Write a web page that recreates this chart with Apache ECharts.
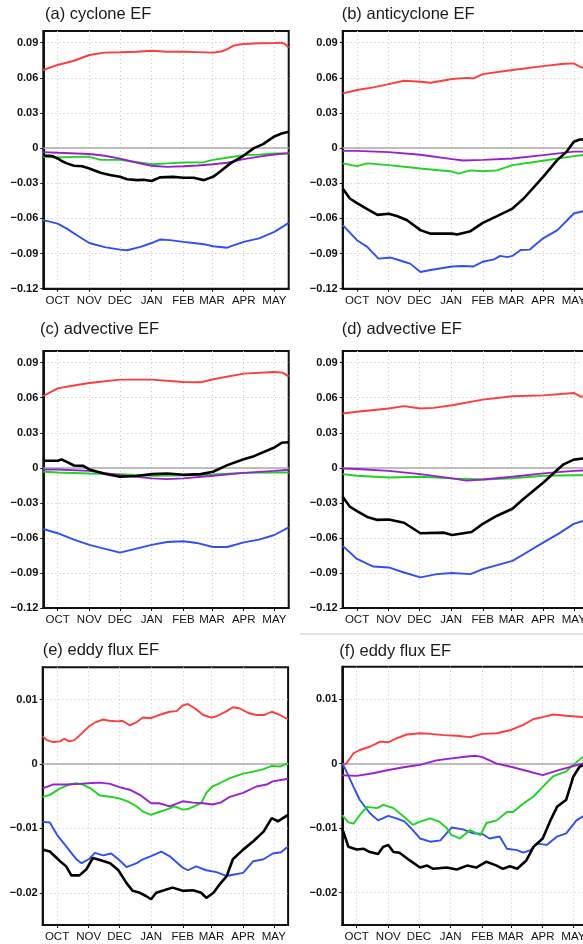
<!DOCTYPE html>
<html>
<head>
<meta charset="utf-8">
<script src="https://cdn.jsdelivr.net/npm/echarts@6/dist/echarts.min.js"></script>
<style>
  html, body { margin: 0; padding: 0; background: #fff; }
  #chart { width: 583px; height: 944px; }
</style>
</head>
<body>
<div id="chart"></div>
<script>
// Time axis: days counted from 1 October; the window runs mid-September to mid-May.
const dayMin = -14;
const dayMax = 226;
const monthTicks = [0, 31, 61, 92, 123, 151, 182, 212];
const monthLabels = ['OCT', 'NOV', 'DEC', 'JAN', 'FEB', 'MAR', 'APR', 'MAY'];

// Value-axis ticks
const efTicks = [-0.12, -0.09, -0.06, -0.03, 0, 0.03, 0.06, 0.09];
const eddyTicks = [-0.02, -0.01, 0, 0.01];

// (a) cyclone EF — [day, value]
const cycloneRed = [[-14,0.0667],[0,0.071],[16,0.0746],[31,0.0795],[46,0.0815],[61,0.0818],[77,0.0823],[92,0.0832],[107,0.0823],[123,0.0823],[137,0.082],[152,0.0815],[160,0.0825],[166,0.0845],[172,0.0875],[178,0.0885],[182,0.0889],[197,0.0895],[212,0.0898],[219,0.09],[223,0.0885],[226,0.0858]];
const cycloneBlack = [[-14,-0.0063],[-5,-0.0068],[0,-0.0088],[4,-0.011],[9,-0.013],[16,-0.015],[24,-0.0155],[31,-0.0174],[42,-0.021],[51,-0.023],[61,-0.0245],[68,-0.0265],[78,-0.0273],[84,-0.027],[92,-0.028],[100,-0.025],[113,-0.0245],[123,-0.0253],[133,-0.0253],[143,-0.0273],[152,-0.0245],[159,-0.02],[169,-0.013],[182,-0.0063],[192,0],[201,0.0034],[212,0.01],[219,0.0125],[226,0.014]];
const cycloneGreen = [[-14,-0.0074],[0,-0.008],[16,-0.0075],[31,-0.0074],[42,-0.01],[61,-0.01],[78,-0.012],[92,-0.0137],[107,-0.013],[123,-0.0122],[143,-0.012],[152,-0.01],[167,-0.008],[182,-0.006],[197,-0.0055],[212,-0.0046],[226,-0.0046]];
const cyclonePurple = [[-14,-0.0034],[0,-0.004],[31,-0.005],[46,-0.0065],[61,-0.009],[78,-0.0125],[92,-0.015],[107,-0.016],[123,-0.0155],[137,-0.0148],[152,-0.0137],[166,-0.0125],[182,-0.0094],[197,-0.0072],[212,-0.0054],[226,-0.0043]];
const cycloneBlue = [[-14,-0.0615],[0,-0.0644],[9,-0.0687],[20,-0.075],[31,-0.081],[46,-0.0845],[61,-0.0866],[68,-0.0872],[81,-0.0843],[92,-0.081],[100,-0.078],[110,-0.0785],[123,-0.08],[133,-0.081],[143,-0.082],[152,-0.0838],[166,-0.085],[172,-0.083],[182,-0.08],[197,-0.077],[212,-0.0715],[226,-0.0638]];

// (b) anticyclone EF
const anticycloneRed = [[-14,0.0467],[0,0.0496],[16,0.0519],[31,0.0547],[46,0.0575],[62,0.0567],[72,0.0558],[93,0.059],[107,0.06],[114,0.0595],[123,0.0632],[152,0.0667],[182,0.07],[200,0.0718],[212,0.0724],[218,0.0695],[222,0.068],[226,0.067]];
const anticycloneBlack = [[-14,-0.0345],[-7,-0.043],[0,-0.047],[10,-0.052],[20,-0.057],[31,-0.056],[39,-0.058],[49,-0.0615],[62,-0.07],[72,-0.073],[93,-0.073],[98,-0.0738],[111,-0.0709],[123,-0.0638],[137,-0.058],[152,-0.0516],[163,-0.043],[182,-0.0245],[196,-0.01],[205,-0.003],[212,0.0054],[218,0.0074],[226,0.0074]];
const anticycloneGreen = [[-14,-0.013],[0,-0.0154],[10,-0.013],[31,-0.0145],[62,-0.0174],[93,-0.02],[99,-0.0217],[111,-0.019],[123,-0.0197],[137,-0.019],[152,-0.0145],[182,-0.0108],[212,-0.0068],[226,-0.0054]];
const anticyclonePurple = [[-14,-0.0023],[0,-0.0023],[31,-0.0034],[62,-0.0057],[93,-0.0094],[104,-0.0105],[123,-0.01],[152,-0.0088],[182,-0.006],[212,-0.003],[226,-0.003]];
const anticycloneBlue = [[-14,-0.0658],[0,-0.0786],[10,-0.0843],[21,-0.0943],[33,-0.0934],[46,-0.097],[52,-0.0986],[62,-0.1057],[72,-0.104],[93,-0.101],[104,-0.1006],[114,-0.101],[123,-0.097],[134,-0.095],[140,-0.092],[147,-0.093],[152,-0.092],[160,-0.087],[169,-0.0866],[182,-0.077],[196,-0.07],[212,-0.0558],[221,-0.0538],[226,-0.052]];

// (c) advective EF
const advectiveCRed = [[-14,0.0615],[0,0.068],[16,0.0705],[31,0.0726],[61,0.0755],[92,0.0755],[123,0.0735],[140,0.0732],[152,0.0758],[182,0.0806],[212,0.082],[220,0.0815],[226,0.0783]];
const advectiveCBlack = [[-14,0.006],[0,0.006],[4,0.0071],[9,0.0051],[16,0.002],[25,0.0017],[31,-0.0014],[46,-0.005],[61,-0.0077],[77,-0.007],[92,-0.0054],[107,-0.0048],[123,-0.006],[140,-0.0054],[152,-0.0034],[166,0.0023],[182,0.0074],[192,0.01],[212,0.0174],[219,0.0214],[226,0.0219]];
const advectiveCGreen = [[-14,-0.0034],[0,-0.004],[31,-0.0048],[61,-0.0054],[92,-0.0068],[123,-0.0063],[152,-0.0057],[182,-0.0043],[212,-0.004],[226,-0.004]];
const advectiveCPurple = [[-14,-0.0014],[0,-0.0014],[31,-0.0026],[61,-0.0063],[92,-0.009],[107,-0.0097],[123,-0.009],[152,-0.0068],[182,-0.0043],[212,-0.0026],[226,-0.0017]];
const advectiveCBlue = [[-14,-0.0524],[0,-0.056],[16,-0.0615],[31,-0.066],[61,-0.0726],[92,-0.066],[107,-0.0635],[123,-0.0629],[136,-0.0643],[152,-0.0678],[166,-0.0678],[182,-0.0638],[197,-0.0615],[212,-0.0575],[226,-0.051]];

// (d) advective EF
const advectiveDRed = [[-14,0.0465],[0,0.048],[31,0.0508],[46,0.0528],[62,0.0508],[75,0.0513],[93,0.0536],[123,0.0584],[152,0.0613],[182,0.062],[212,0.0641],[218,0.0613],[226,0.06]];
const advectiveDBlack = [[-14,-0.0247],[-7,-0.0333],[0,-0.037],[10,-0.042],[20,-0.0446],[31,-0.0442],[46,-0.047],[62,-0.056],[85,-0.0555],[93,-0.0575],[112,-0.055],[123,-0.048],[137,-0.041],[152,-0.035],[163,-0.0264],[182,-0.0128],[192,-0.0048],[202,0.003],[212,0.007],[221,0.008],[226,0.008]];
const advectiveDGreen = [[-14,-0.0054],[0,-0.0068],[31,-0.0083],[62,-0.0077],[93,-0.009],[123,-0.01],[152,-0.009],[182,-0.0068],[212,-0.0063],[226,-0.0063]];
const advectiveDPurple = [[-14,-0.0006],[0,-0.001],[31,-0.0026],[62,-0.0054],[93,-0.009],[107,-0.011],[123,-0.01],[152,-0.0077],[182,-0.0048],[212,-0.0026],[226,-0.0022]];
const advectiveDBlue = [[-14,-0.0668],[0,-0.078],[16,-0.0845],[31,-0.0853],[46,-0.0896],[62,-0.0938],[78,-0.091],[93,-0.09],[111,-0.091],[123,-0.0867],[137,-0.0833],[152,-0.0796],[163,-0.074],[182,-0.064],[196,-0.057],[212,-0.048],[221,-0.0455],[226,-0.044]];

// (e) eddy flux EF
const eddyERed = [[-14,0.0043],[-10,0.0037],[-4,0.0034],[3,0.0035],[7,0.0039],[12,0.0035],[17,0.0037],[24,0.0047],[31,0.0058],[38,0.0065],[45,0.0069],[51,0.0067],[60,0.0066],[64,0.0067],[71,0.006],[78,0.0065],[84,0.0072],[92,0.0071],[100,0.0076],[110,0.0081],[117,0.0082],[123,0.0091],[128,0.0093],[135,0.0086],[143,0.0076],[151,0.0072],[156,0.0074],[166,0.0082],[172,0.0088],[179,0.0086],[187,0.0079],[195,0.0076],[203,0.0076],[210,0.0081],[218,0.0076],[226,0.0069]];
const eddyEGreen = [[-14,-0.0051],[-7,-0.0048],[3,-0.0038],[12,-0.0032],[19,-0.003],[25,-0.0032],[33,-0.0038],[42,-0.0049],[52,-0.0051],[60,-0.0053],[69,-0.0058],[78,-0.0066],[84,-0.0074],[92,-0.0079],[99,-0.0075],[107,-0.0071],[115,-0.0066],[123,-0.0071],[128,-0.007],[135,-0.0065],[141,-0.0061],[146,-0.0045],[152,-0.0035],[159,-0.003],[169,-0.0022],[182,-0.0015],[192,-0.0012],[202,-0.0008],[210,-0.0003],[218,-0.0004],[226,0.0001]];
const eddyEPurple = [[-14,-0.0038],[-4,-0.0032],[9,-0.0032],[22,-0.0031],[31,-0.003],[42,-0.0029],[52,-0.0031],[61,-0.0036],[71,-0.004],[81,-0.0048],[92,-0.0061],[100,-0.0061],[110,-0.0066],[123,-0.0058],[133,-0.006],[143,-0.0061],[152,-0.0063],[160,-0.006],[169,-0.0051],[182,-0.0045],[195,-0.0035],[205,-0.0032],[211,-0.0027],[226,-0.0023]];
const eddyEBlue = [[-14,-0.009],[-7,-0.0091],[0,-0.011],[9,-0.0128],[19,-0.0148],[24,-0.0154],[31,-0.0148],[37,-0.0138],[45,-0.0142],[53,-0.0139],[60,-0.0148],[68,-0.016],[78,-0.0154],[84,-0.0148],[92,-0.0143],[102,-0.0136],[110,-0.0143],[123,-0.0161],[128,-0.0165],[136,-0.0159],[146,-0.0165],[156,-0.0168],[166,-0.0174],[172,-0.0172],[182,-0.0169],[192,-0.0151],[202,-0.0148],[211,-0.0139],[219,-0.0137],[226,-0.0128]];
const eddyEBlack = [[-14,-0.0133],[-7,-0.0136],[3,-0.0151],[9,-0.0159],[14,-0.0173],[22,-0.0173],[29,-0.0163],[35,-0.0146],[42,-0.0149],[52,-0.0154],[60,-0.0165],[68,-0.0185],[74,-0.0197],[81,-0.02],[87,-0.0205],[92,-0.021],[97,-0.02],[107,-0.0195],[113,-0.0192],[123,-0.0197],[133,-0.0196],[141,-0.02],[146,-0.0208],[153,-0.02],[159,-0.0187],[166,-0.0174],[172,-0.0148],[182,-0.0133],[192,-0.012],[202,-0.0105],[210,-0.0084],[216,-0.0089],[226,-0.0079]];

// (f) eddy flux EF
const eddyFRed = [[-14,-0.0002],[-10,0],[-3,0.0016],[3,0.0021],[13,0.0026],[23,0.0034],[31,0.0033],[39,0.0039],[49,0.0045],[62,0.0047],[72,0.0046],[85,0.0044],[98,0.0043],[111,0.0041],[123,0.0046],[137,0.0047],[151,0.0052],[163,0.006],[173,0.0069],[182,0.0072],[192,0.0076],[205,0.0074],[221,0.0072],[226,0.007]];
const eddyFPurple = [[-14,-0.0018],[0,-0.0019],[16,-0.0015],[31,-0.001],[49,-0.0005],[62,-0.0002],[78,0.0005],[93,0.0008],[108,0.0011],[117,0.0012],[123,0.001],[137,0],[151,-0.0005],[163,-0.001],[182,-0.0018],[196,-0.0011],[209,-0.0005],[221,0],[226,0]];
const eddyFGreen = [[-14,-0.008],[-8,-0.0091],[-3,-0.0093],[3,-0.008],[10,-0.0067],[20,-0.0069],[26,-0.0064],[36,-0.0069],[46,-0.0082],[55,-0.0095],[62,-0.009],[72,-0.0085],[81,-0.009],[88,-0.01],[93,-0.0111],[101,-0.0116],[111,-0.0103],[121,-0.0111],[127,-0.0092],[137,-0.0088],[147,-0.0075],[153,-0.0075],[163,-0.0062],[173,-0.0051],[182,-0.0036],[192,-0.002],[205,-0.0012],[212,-0.0002],[221,0.001],[226,0.0015]];
const eddyFBlue = [[-14,0],[-10,-0.0012],[-3,-0.0036],[3,-0.0056],[13,-0.0077],[21,-0.0088],[31,-0.0081],[39,-0.0085],[47,-0.009],[55,-0.0103],[62,-0.0116],[72,-0.0121],[82,-0.0119],[93,-0.0099],[104,-0.0102],[114,-0.0108],[123,-0.0109],[130,-0.0116],[140,-0.0113],[147,-0.0132],[157,-0.0134],[163,-0.0138],[170,-0.0134],[176,-0.0124],[186,-0.0126],[196,-0.0113],[205,-0.0108],[215,-0.0088],[221,-0.0082],[226,-0.0078]];
const eddyFBlack = [[-14,-0.0101],[-8,-0.0129],[0,-0.0133],[7,-0.0132],[13,-0.0137],[21,-0.014],[26,-0.0129],[31,-0.0126],[36,-0.0137],[42,-0.0138],[52,-0.015],[62,-0.0161],[69,-0.0158],[75,-0.0163],[88,-0.0161],[98,-0.0164],[108,-0.0158],[117,-0.0161],[127,-0.0152],[137,-0.0158],[143,-0.0163],[150,-0.0159],[157,-0.0163],[166,-0.015],[173,-0.0129],[182,-0.0116],[189,-0.009],[196,-0.0067],[205,-0.0056],[212,-0.002],[218,-0.0005],[226,0]];

const COLORS = { red: '#ff3b3b', blue: '#2f4ff5', green: '#1ed41e', purple: '#9b1fcf', black: '#000000' };
const FONT = '"Liberation Sans", Arial, Helvetica, sans-serif';

const panels = [
  { title: '(a) cyclone EF',     left: 43.3,  top: 31,    height: 257.7, tx: 45,    ty: 14.5,  ticks: efTicks,   min: -0.12,  max: 0.10,
    lines: { red: cycloneRed, blue: cycloneBlue, green: cycloneGreen, purple: cyclonePurple, black: cycloneBlack } },
  { title: '(b) anticyclone EF', left: 342.7, top: 31,    height: 257.7, tx: 341.7, ty: 14.5,  ticks: efTicks,   min: -0.12,  max: 0.10,
    lines: { red: anticycloneRed, blue: anticycloneBlue, green: anticycloneGreen, purple: anticyclonePurple, black: anticycloneBlack } },
  { title: '(c) advective EF',   left: 43.3,  top: 351,   height: 257,   tx: 40,    ty: 329.5, ticks: efTicks,   min: -0.12,  max: 0.10,
    lines: { red: advectiveCRed, blue: advectiveCBlue, green: advectiveCGreen, purple: advectiveCPurple, black: advectiveCBlack } },
  { title: '(d) advective EF',   left: 342.7, top: 351,   height: 257,   tx: 341.7, ty: 329.5, ticks: efTicks,   min: -0.12,  max: 0.10,
    lines: { red: advectiveDRed, blue: advectiveDBlue, green: advectiveDGreen, purple: advectiveDPurple, black: advectiveDBlack } },
  { title: '(e) eddy flux EF',   left: 42.7,  top: 667.3, height: 257.7, tx: 42.7,  ty: 650.5, ticks: eddyTicks, min: -0.025, max: 0.015,
    lines: { red: eddyERed, blue: eddyEBlue, green: eddyEGreen, purple: eddyEPurple, black: eddyEBlack } },
  { title: '(f) eddy flux EF',   left: 342.3, top: 666.7, height: 258.3, tx: 339.3, ty: 652,   ticks: eddyTicks, min: -0.025, max: 0.015,
    lines: { red: eddyFRed, blue: eddyFBlue, green: eddyFGreen, purple: eddyFPurple, black: eddyFBlack } }
];
const PANEL_WIDTH = 245.4;

function tickText(v) {
  if (Math.abs(v) < 1e-12) return '0';
  return v.toFixed(2).replace('-', '\u2212');
}

const grid = [], xAxis = [], yAxis = [], series = [], graphic = [];
panels.forEach((p, i) => {
  grid.push({ left: p.left, top: p.top, width: PANEL_WIDTH, height: p.height,
              containLabel: false, outerBoundsMode: 'none',
              show: true, borderColor: '#111', borderWidth: 2, backgroundColor: 'transparent' });
  xAxis.push({
    type: 'value', gridIndex: i, min: dayMin, max: dayMax,
    axisLine: { show: true, onZero: false, lineStyle: { color: '#111', width: 2 } },
    axisTick: { show: true, length: 3, customValues: monthTicks, lineStyle: { color: '#111', width: 1 } },
    axisLabel: { customValues: monthTicks, margin: 6, color: '#111', fontFamily: FONT, fontSize: 11.5,
                 hideOverlap: false,
                 formatter: v => monthLabels[monthTicks.indexOf(v)] || '' },
    splitLine: { show: true, lineStyle: { type: [1, 3], color: '#c8c8c8', width: 1 } }
  });
  yAxis.push({
    type: 'value', gridIndex: i, min: p.min, max: p.max,
    axisLine: { show: true, onZero: false, lineStyle: { color: '#111', width: 2 } },
    axisTick: { show: true, length: 3, customValues: p.ticks, lineStyle: { color: '#111', width: 1 } },
    axisLabel: { customValues: p.ticks, margin: 5, color: '#111', fontFamily: FONT, fontSize: 11, fontWeight: 'bold',
                 formatter: tickText },
    splitLine: { show: true, lineStyle: { type: [1, 3], color: '#c8c8c8', width: 1 } }
  });
  ['red', 'blue', 'green', 'purple', 'black'].forEach((c, k) => {
    const s = {
      type: 'line', xAxisIndex: i, yAxisIndex: i, data: p.lines[c],
      showSymbol: false, symbol: 'none', silent: true, clip: true,
      lineStyle: { color: COLORS[c], width: c === 'black' ? 2.6 : 1.9 },
      z: 3 + k
    };
    if (k === 0) {
      s.markLine = { silent: true, symbol: 'none', label: { show: false }, z: 1,
                     lineStyle: { color: '#a8a8a8', type: 'solid', width: 1.5 },
                     data: [{ yAxis: 0 }] };
    }
    series.push(s);
  });
  graphic.push({ type: 'text', left: p.tx, top: p.ty - 9, silent: true,
                 style: { text: p.title, fill: '#1a1a1a', font: '16.5px ' + FONT } });
});

// thin separator rule above the lower-right panel
graphic.push({ type: 'line', silent: true,
               shape: { x1: 300, y1: 634, x2: 583, y2: 634 },
               style: { stroke: '#e2e2e2', lineWidth: 2 } });

const chart = echarts.init(document.getElementById('chart'), null, { renderer: 'canvas' });
chart.setOption({ animation: false, backgroundColor: '#fff', grid, xAxis, yAxis, series, graphic });
</script>
</body>
</html>
